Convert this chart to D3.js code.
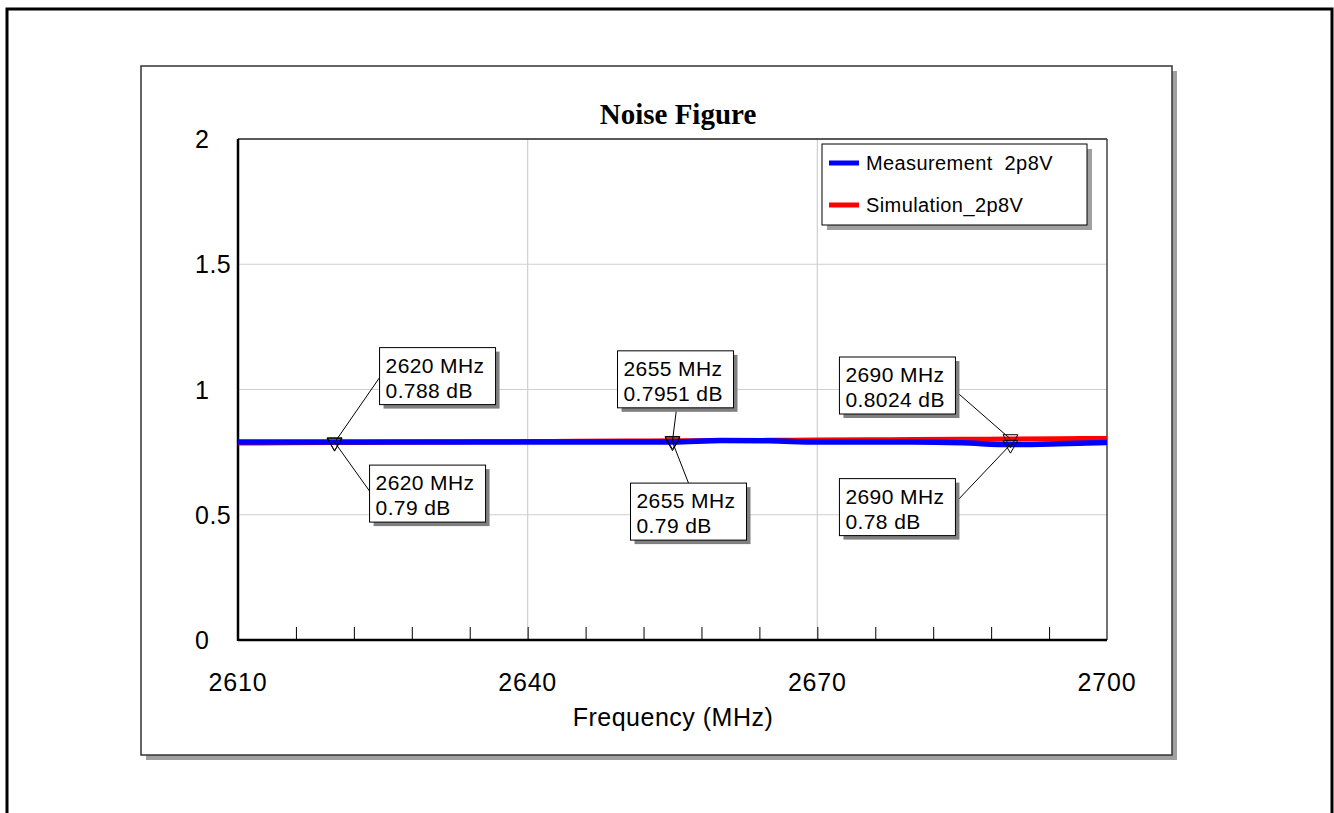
<!DOCTYPE html>
<html>
<head>
<meta charset="utf-8">
<script src="https://cdn.jsdelivr.net/npm/d3@7"></script>
<style>
  body { margin: 0; background: #fff; }
  text { font-family: Arial, 'Liberation Sans', sans-serif; fill: #000; }
</style>
</head>
<body>
<script>
// ---- data ----
const freqs = [2610, 2615, 2620, 2625, 2630, 2635, 2640, 2645, 2650, 2655,
               2660, 2665, 2670, 2675, 2680, 2685, 2690, 2695, 2700];
const measurement = [0.79, 0.79, 0.79, 0.79, 0.79, 0.79, 0.79, 0.79, 0.79, 0.79,
                     0.796, 0.795, 0.79, 0.79, 0.79, 0.787, 0.78, 0.783, 0.788];
const simulation = [0.786, 0.787, 0.788, 0.789, 0.79, 0.791, 0.792, 0.793, 0.794, 0.7951,
                    0.796, 0.797, 0.798, 0.799, 0.8, 0.801, 0.8024, 0.8035, 0.8045];
const seriesNames = ['Measurement  2p8V', 'Simulation_2p8V'];
const xTicks = [2610, 2640, 2670, 2700];
const yTicks = [0, 0.5, 1, 1.5, 2];

// marker readouts: [series, freq, value]
const markers = [
  ['sim', 2620, 0.788], ['meas', 2620, 0.79],
  ['sim', 2655, 0.7951], ['meas', 2655, 0.79],
  ['sim', 2690, 0.8024], ['meas', 2690, 0.78]
];
const markerLabels = ['0.788 dB', '0.79 dB', '0.7951 dB', '0.79 dB', '0.8024 dB', '0.78 dB'];

// callout box layout, relative to marker point: box offset and leader anchor on the box
const calloutLayout = [
  { dx: 45, dy: -95, ax: 0, ay: 30 },
  { dx: 35, dy: 23, ax: 0, ay: 26 },
  { dx: -55, dy: -90, ax: 59, ay: 58 },
  { dx: -42, dy: 41, ax: 58, ay: 0 },
  { dx: -171, dy: -82, ax: 116, ay: 34 },
  { dx: -171, dy: 34, ax: 116, ay: 24 }
];

const width = 1334;
const height = 813;
const plot = { left: 238, right: 1107, top: 139, bottom: 640 };

const svg = d3.select('body').append('svg')
  .attr('width', width)
  .attr('height', height);

// outer frame (bottom runs off the page)
svg.append('rect')
  .attr('x', 7).attr('y', 9)
  .attr('width', 1325).attr('height', 900)
  .attr('fill', 'none')
  .attr('stroke', '#000')
  .attr('stroke-width', 3);

// inner panel with drop shadow
svg.append('rect')
  .attr('x', 146).attr('y', 71)
  .attr('width', 1031).attr('height', 689)
  .attr('fill', '#a0a0a0');
svg.append('rect')
  .attr('x', 141).attr('y', 66)
  .attr('width', 1031).attr('height', 689)
  .attr('fill', '#fff')
  .attr('stroke', '#333')
  .attr('stroke-width', 1.5);

const x = d3.scaleLinear().domain([2610, 2700]).range([plot.left, plot.right]);
const y = d3.scaleLinear().domain([0, 2]).range([plot.bottom, plot.top]);

// grid
svg.append('g')
  .selectAll('line')
  .data(xTicks.slice(1, -1))
  .enter().append('line')
    .attr('x1', d => x(d)).attr('x2', d => x(d))
    .attr('y1', plot.top).attr('y2', plot.bottom)
    .attr('stroke', '#cfcfcf').attr('stroke-width', 1.2);
svg.append('g')
  .selectAll('line')
  .data(yTicks.slice(1, -1))
  .enter().append('line')
    .attr('x1', plot.left).attr('x2', plot.right)
    .attr('y1', d => y(d)).attr('y2', d => y(d))
    .attr('stroke', '#cfcfcf').attr('stroke-width', 1.2);

// minor ticks every 6 MHz on the bottom axis
const xAxis = d3.axisTop(x)
  .tickValues(d3.range(2616, 2700, 6))
  .tickSize(13)
  .tickFormat('');
const gx = svg.append('g')
  .attr('transform', `translate(0, ${plot.bottom})`)
  .call(xAxis);
gx.select('.domain').remove();
gx.selectAll('line').attr('stroke', '#000').attr('stroke-width', 1);

// plot border
svg.append('line')
  .attr('x1', plot.left).attr('x2', plot.right)
  .attr('y1', plot.top).attr('y2', plot.top)
  .attr('stroke', '#222').attr('stroke-width', 1.5);
svg.append('line')
  .attr('x1', plot.right).attr('x2', plot.right)
  .attr('y1', plot.top).attr('y2', plot.bottom)
  .attr('stroke', '#444').attr('stroke-width', 1.5);
svg.append('line')
  .attr('x1', plot.left).attr('x2', plot.left)
  .attr('y1', plot.top).attr('y2', plot.bottom + 1)
  .attr('stroke', '#000').attr('stroke-width', 2.5);
svg.append('line')
  .attr('x1', plot.left).attr('x2', plot.right)
  .attr('y1', plot.bottom).attr('y2', plot.bottom)
  .attr('stroke', '#000').attr('stroke-width', 2.5);

// tick labels
svg.append('g')
  .selectAll('text')
  .data(yTicks)
  .enter().append('text')
    .attr('x', 195)
    .attr('y', d => y(d) + 9)
    .attr('font-size', 25)
    .attr('letter-spacing', 0.5)
    .text(d => d);
svg.append('g')
  .selectAll('text')
  .data(xTicks)
  .enter().append('text')
    .attr('x', d => x(d))
    .attr('y', 691)
    .attr('text-anchor', 'middle')
    .attr('font-size', 25)
    .attr('letter-spacing', 0.8)
    .text(d => d);

svg.append('text')
  .attr('x', 673).attr('y', 726)
  .attr('text-anchor', 'middle')
  .attr('font-size', 25)
  .attr('letter-spacing', 0.5)
  .text('Frequency (MHz)');

svg.append('text')
  .attr('x', 678).attr('y', 124)
  .attr('text-anchor', 'middle')
  .attr('font-size', 29)
  .attr('font-weight', 'bold')
  .style('font-family', "'Times New Roman', 'Liberation Serif', serif")
  .text('Noise Figure');

// series
const line = d3.line()
  .x((d, i) => x(freqs[i]))
  .y(d => y(d))
  .curve(d3.curveMonotoneX);

svg.append('path')
  .datum(simulation)
  .attr('d', line)
  .attr('fill', 'none')
  .attr('stroke', '#ff0000')
  .attr('stroke-width', 5);
svg.append('path')
  .datum(measurement)
  .attr('d', line)
  .attr('fill', 'none')
  .attr('stroke', '#0000ff')
  .attr('stroke-width', 5.5);

// legend
svg.append('rect')
  .attr('x', 827).attr('y', 149)
  .attr('width', 265).attr('height', 81)
  .attr('fill', '#a0a0a0');
svg.append('rect')
  .attr('x', 822).attr('y', 144)
  .attr('width', 265).attr('height', 81)
  .attr('fill', '#fff')
  .attr('stroke', '#000')
  .attr('stroke-width', 1);
const legendColors = ['#0000ff', '#ff0000'];
seriesNames.forEach((name, i) => {
  const ly = 163 + i * 42;
  svg.append('line')
    .attr('x1', 829).attr('x2', 859)
    .attr('y1', ly).attr('y2', ly)
    .attr('stroke', legendColors[i])
    .attr('stroke-width', 5);
  svg.append('text')
    .attr('x', 866).attr('y', ly + 7)
    .attr('font-size', 20)
    .attr('letter-spacing', 0.4)
    .style('white-space', 'pre')
    .text(name);
});

// marker callouts
const callouts = svg.append('g');
markers.forEach((m, i) => {
  const px = x(m[1]);
  const py = y(m[2]);
  const lay = calloutLayout[i];
  const bx = px + lay.dx;
  const by = py + lay.dy;

  callouts.append('line')
    .attr('x1', bx + lay.ax).attr('y1', by + lay.ay)
    .attr('x2', px).attr('y2', py)
    .attr('stroke', '#000').attr('stroke-width', 1);

  callouts.append('rect')
    .attr('x', bx + 4).attr('y', by + 4)
    .attr('width', 116).attr('height', 57)
    .attr('fill', '#808080');
  callouts.append('rect')
    .attr('x', bx).attr('y', by)
    .attr('width', 116).attr('height', 57)
    .attr('fill', '#fff')
    .attr('stroke', '#000').attr('stroke-width', 1);
  callouts.append('text')
    .attr('x', bx + 6).attr('y', by + 25)
    .attr('font-size', 21)
    .attr('letter-spacing', 0.4)
    .text(`${m[1]} MHz`);
  callouts.append('text')
    .attr('x', bx + 6).attr('y', by + 50)
    .attr('font-size', 21)
    .attr('letter-spacing', 0.4)
    .text(markerLabels[i]);
});

// triangle markers on top
svg.append('g')
  .selectAll('path')
  .data(markers)
  .enter().append('path')
    .attr('d', d3.symbol().type(d3.symbolTriangle).size(95))
    .attr('transform', d => `translate(${x(d[1])}, ${y(d[2])}) rotate(180)`)
    .attr('fill', 'none')
    .attr('stroke', '#000')
    .attr('stroke-width', 1);
</script>
</body>
</html>
